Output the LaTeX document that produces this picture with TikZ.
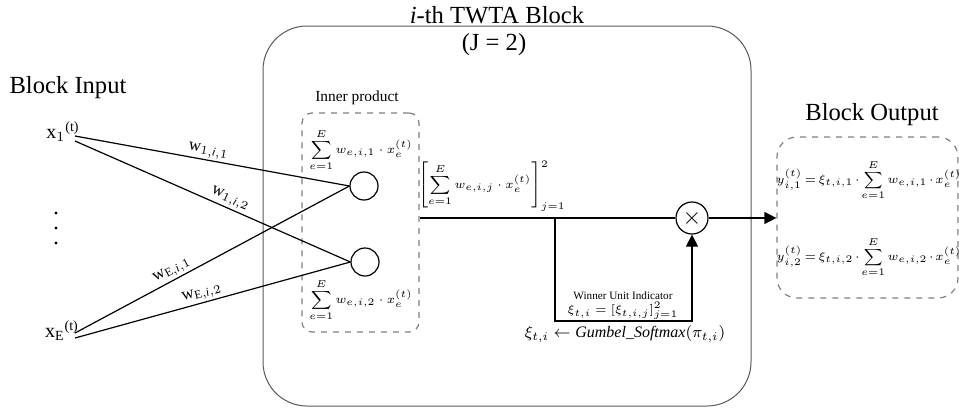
\documentclass[tikz,border=0pt]{standalone}
\usepackage{amsmath}
\usepackage{fontspec}
\setmainfont{Liberation Serif}
\usepackage{xcolor}
\usepackage{tikz}
\usetikzlibrary{arrows.meta,positioning,calc}

\newcommand{\tightmu}{\medmuskip=2mu\relax\thickmuskip=3mu\relax}

\tikzset{
  neuron/.style={circle,draw,minimum size=14pt,inner sep=0pt},
  dashbox/.style={draw=gray,dashed,rounded corners=#1,inner sep=0pt},
  bigtext/.style={font=\fontsize{12.3}{14}\selectfont},
  wlabel/.style={sloped,above,inner sep=1pt,font=\fontsize{8.5}{9}\selectfont},
  eqtext/.style={font=\fontsize{6.4}{7}\selectfont},
  outeq/.style={inner sep=0pt,font=\fontsize{5.8}{7}\selectfont},
  tip/.style={-{Triangle[length=6pt,width=6pt]}}
}

\begin{document}
\begin{tikzpicture}[x=0.5pt,y=-0.5pt,line width=0.6pt]
  \useasboundingbox (0,0) rectangle (959,408);

  % block frame
  \node[draw=black!65,line width=0.5pt,rounded corners=22pt,minimum width=244pt,minimum height=190pt] (blk) at (507,216) {};
  \node[bigtext] (title) at (497,15) {\textit{i}-th TWTA Block};
  \node[bigtext] (jnum) at (494,45) {(J = 2)};

  % inputs
  \node[bigtext] (inlab) at (68,88) {Block Input};
  \node[font=\fontsize{10}{12}\selectfont] (x1) at (63,132) {x$_1{}^{\text{(t)}}$};
  \node[font=\fontsize{10}{12}\selectfont] (xE) at (62,331) {x$_\text{E}{}^{\text{(t)}}$};
  \foreach \y in {213,228,243}
    \fill (56,\y) circle (1.6);
  \coordinate (x1a) at (75,136);
  \coordinate (x1b) at (75,141);
  \coordinate (xEa) at (75,333);
  \coordinate (xEb) at (75,338);

  % inner product
  \node[dashbox=5pt,minimum width=58.5pt,minimum height=109.5pt] (ip) at (360.5,222.5) {};
  \node[font=\fontsize{7.7}{9}\selectfont] (iplab) at (357,98) {Inner product};
  \node[neuron] (c1) at (364,186) {};
  \node[neuron] (c2) at (365,262) {};
  \node[eqtext] (s1) at (361,150) {$\displaystyle\sum_{e=1}^{E} w_{e,i,1}\cdot x_e^{(t)}$};
  \node[eqtext] (s2) at (361,300) {$\displaystyle\sum_{e=1}^{E} w_{e,i,2}\cdot x_e^{(t)}$};

  \draw (x1a) -- (c1.west) node[wlabel,pos=0.48] {w$_{1,\mathit{i},1}$};
  \draw (x1b) -- (c2.west) node[wlabel,pos=0.55] {w$_{1,\mathit{i},2}$};
  \draw (xEa) -- (c1.west) node[wlabel,pos=0.37] {w$_{\text{E},\mathit{i},1}$};
  \draw (xEb) -- (c2.west) node[wlabel,pos=0.47] {w$_{\text{E},\mathit{i},2}$};

  % winner selection
  \node[circle,draw,minimum size=16pt,inner sep=0pt,font=\fontsize{12}{12}\selectfont] (mult) at (692,218) {$\times$};
  \node[eqtext,inner sep=0pt] (vec) at (492,186) {$\displaystyle\left[\sum_{e=1}^{E} w_{e,i,j}\cdot x_e^{(t)}\right]_{j=1}^{2}$};
  \coordinate (br) at (555,218);
  \coordinate (gb) at (692,321);
  \draw (ip.east |- mult) -- (mult.west);
  \draw[tip] (br) |- (gb) -- (mult.south);
  \node[font=\fontsize{5.6}{6}\selectfont] (wui) at (623,296) {Winner Unit Indicator};
  \node[font=\fontsize{5.6}{6}\selectfont] (xieq) at (623,311) {$\xi_{t,i}=[\xi_{t,i,j}]_{j=1}^{2}$};
  \node[font=\fontsize{8}{9}\selectfont] (gum) at (625,334) {$\xi_{t,i}\leftarrow \mathit{Gumbel\_Softmax}(\pi_{t,i})$};

  % outputs
  \node[bigtext] (outlab) at (872,115) {Block Output};
  \node[dashbox=10pt,minimum width=90.5pt,minimum height=80.5pt] (ob) at (867.5,217.5) {};
  \node[outeq] (y1) at (869,180) {$\tightmu y_{i,1}^{(t)}=\xi_{t,i,1}\cdot\displaystyle\sum_{e=1}^{E} w_{e,i,1}\cdot x_e^{(t)}$};
  \node[outeq] (y2) at (869,257) {$\tightmu y_{i,2}^{(t)}=\xi_{t,i,2}\cdot\displaystyle\sum_{e=1}^{E} w_{e,i,2}\cdot x_e^{(t)}$};
  \draw[tip] (mult.east) -- (ob.west |- mult);
\end{tikzpicture}
\end{document}
